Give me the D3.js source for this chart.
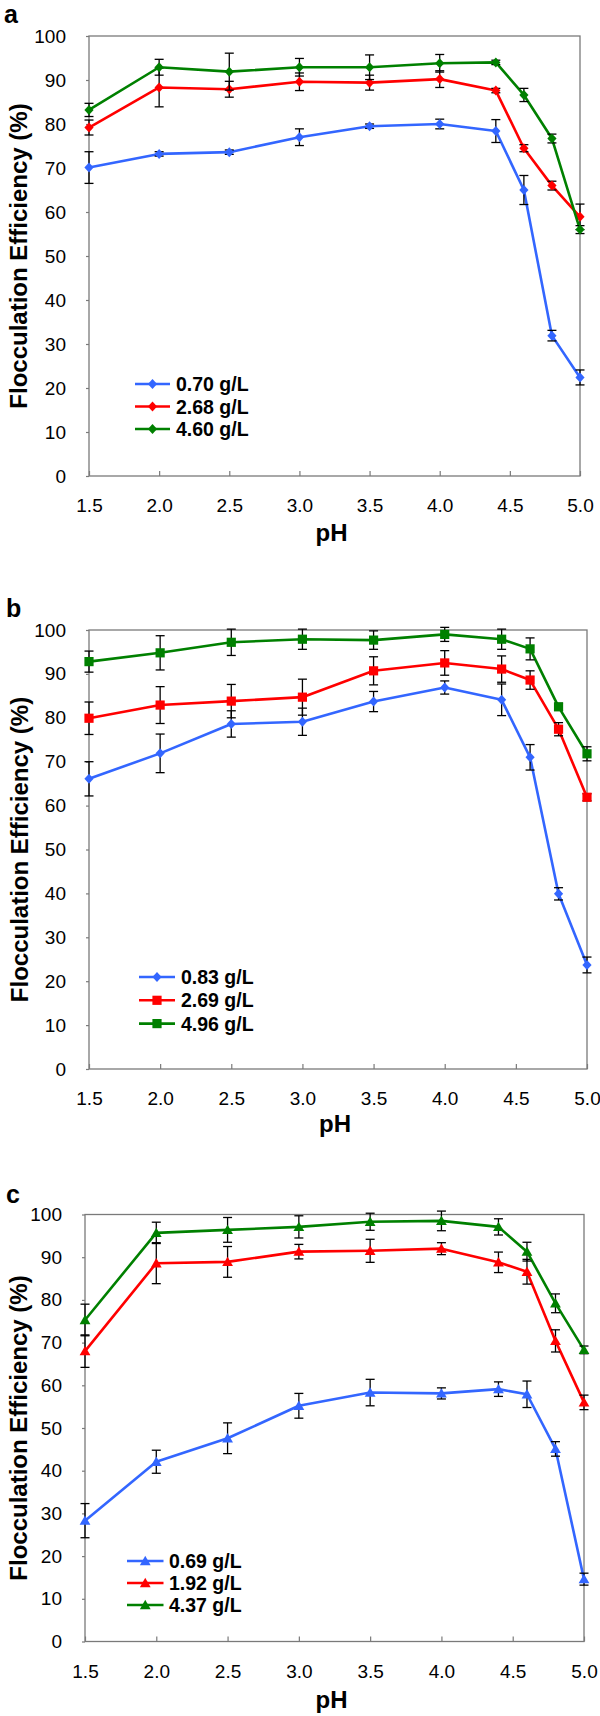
<!DOCTYPE html>
<html>
<head>
<meta charset="utf-8">
<script src="https://cdn.jsdelivr.net/npm/d3@7"></script>
<style>
  html, body { margin: 0; padding: 0; background: #fff; }
  svg { display: block; }
  text { font-family: "Liberation Sans", Arial, sans-serif; fill: #000; }
</style>
</head>
<body>
<svg id="chart" width="600" height="1716"></svg>
<script>
// ---------- data ----------
const pH = [1.5, 2.0, 2.5, 3.0, 3.5, 4.0, 4.4, 4.6, 4.8, 5.0];
const xTicks = [1.5, 2.0, 2.5, 3.0, 3.5, 4.0, 4.5, 5.0];
const yTicks = [0, 10, 20, 30, 40, 50, 60, 70, 80, 90, 100];

// panel a (diamonds)
const legendA = ["0.70 g/L", "2.68 g/L", "4.60 g/L"];
const aLow  = [70.1, 73.2, 73.6, 77.0, 79.5, 80.0, 78.4, 65.0, 31.9, 22.4];
const aLowErr  = [3.6, 0.5, 0.5, 1.9, 0.5, 1.1, 2.6, 3.3, 1.2, 1.7];
const aMid  = [79.2, 88.3, 87.9, 89.6, 89.4, 90.2, 87.6, 74.5, 66.0, 58.9];
const aMidErr  = [1.7, 4.4, 1.8, 2.0, 1.7, 1.9, 0.5, 0.8, 1.0, 2.9];
const aHigh = [83.2, 92.9, 91.9, 92.9, 92.9, 93.8, 94.0, 86.6, 76.7, 56.0];
const aHighErr = [1.5, 1.8, 4.2, 2.0, 2.8, 2.0, 0.5, 1.5, 1.0, 0.9];

// panel b (diamond + squares)
const legendB = ["0.83 g/L", "2.69 g/L", "4.96 g/L"];
const bLow  = [66.1, 71.9, 78.6, 79.1, 83.7, 86.9, 84.1, 71.0, 39.9, 23.7];
const bLowErr  = [3.9, 4.4, 3.0, 3.1, 2.3, 1.5, 3.6, 2.9, 1.4, 1.8];
const bMid  = [79.9, 82.9, 83.8, 84.7, 90.7, 92.5, 91.1, 88.6, 77.4, 61.9];
const bMidErr  = [3.7, 4.2, 3.8, 4.1, 3.2, 2.8, 3.0, 2.1, 1.5, 0.8];
const bHigh = [92.8, 94.8, 97.2, 97.9, 97.7, 99.0, 97.9, 95.7, 82.5, 71.8];
const bHighErr = [2.4, 3.9, 3.0, 2.3, 2.1, 1.6, 2.3, 2.5, 0.8, 1.6];

// panel c (triangles)
const legendC = ["0.69 g/L", "1.92 g/L", "4.37 g/L"];
const cLow  = [28.3, 42.1, 47.6, 55.2, 58.3, 58.1, 59.1, 57.9, 45.1, 14.6];
const cLowErr  = [4.0, 2.7, 3.6, 2.9, 3.1, 1.3, 1.7, 3.1, 1.7, 1.4];
const cMid  = [68.0, 88.6, 88.9, 91.3, 91.5, 92.0, 88.8, 86.6, 70.4, 56.0];
const cMidErr  = [3.8, 4.8, 3.6, 1.7, 2.7, 1.4, 2.4, 2.9, 2.6, 1.7];
const cHigh = [75.3, 95.7, 96.4, 97.1, 98.3, 98.5, 97.1, 91.3, 79.2, 68.3];
const cHighErr = [3.7, 2.5, 2.9, 2.6, 2.0, 2.3, 1.9, 2.2, 2.2, 0.9];

const colors = ["#3366ff", "#ff0000", "#008000"];

// ---------- layout ----------
const panels = [
  { letter: "a", shapes: ["diamond", "diamond", "diamond"], labels: legendA,
    vals: [aLow, aMid, aHigh], errs: [aLowErr, aMidErr, aHighErr],
    l: 89, r: 580, t: 36, b: 476, lx0: 135, lx1: 170, ltx: 176, ly: 384, ldy: 22.5,
    letterX: 4, letterY: 23, titleX: 27, phDy: 65 },
  { letter: "b", shapes: ["diamond", "square", "square"], labels: legendB,
    vals: [bLow, bMid, bHigh], errs: [bLowErr, bMidErr, bHighErr],
    l: 89, r: 587, t: 630, b: 1069, lx0: 139, lx1: 175, ltx: 181, ly: 977, ldy: 23.3,
    letterX: 6, letterY: 617, titleX: 28, phDy: 63 },
  { letter: "c", shapes: ["triangle", "triangle", "triangle"], labels: legendC,
    vals: [cLow, cMid, cHigh], errs: [cLowErr, cMidErr, cHighErr],
    l: 85, r: 584, t: 1214.5, b: 1641.5, lx0: 127, lx1: 163.5, ltx: 169, ly: 1561, ldy: 22,
    letterX: 6, letterY: 1203, titleX: 27, phDy: 66 }
];

function shapePath(shape) {
  if (shape === "diamond") return "M0,-5L4.6,0L0,5L-4.6,0Z";
  if (shape === "square") return "M-4.6,-4.6H4.6V4.6H-4.6Z";
  return "M0,-5.2L5.4,4.2L-5.4,4.2Z";
}

const svg = d3.select("#chart");
const axisColor = "#7a7a7a";

panels.forEach(p => {
  const g = svg.append("g");
  const x = d3.scaleLinear().domain([1.5, 5.0]).range([p.l, p.r]);
  const y = d3.scaleLinear().domain([0, 100]).range([p.b, p.t]);

  // frame
  g.append("rect").attr("x", p.l).attr("y", p.t)
    .attr("width", p.r - p.l).attr("height", p.b - p.t)
    .attr("fill", "none").attr("stroke", axisColor).attr("stroke-width", 1.3);

  // y axis
  const ya = g.append("g").attr("transform", `translate(${p.l},0)`)
    .call(d3.axisLeft(y).tickValues(yTicks).tickSize(3).tickPadding(20).tickFormat(d3.format("d")));
  ya.select(".domain").remove();
  ya.selectAll("line").attr("stroke", axisColor).attr("stroke-width", 1.2);
  ya.selectAll("text").attr("font-size", 19).attr("fill", "#000")
    .style("font-family", "'Liberation Sans', Arial, sans-serif");

  // x axis
  const xa = g.append("g").attr("transform", `translate(0,${p.b})`)
    .call(d3.axisBottom(x).tickValues(xTicks).tickSizeInner(-5).tickSizeOuter(0).tickPadding(23).tickFormat(d3.format(".1f")));
  xa.select(".domain").remove();
  xa.selectAll("line").attr("stroke", axisColor).attr("stroke-width", 1.2);
  xa.selectAll("text").attr("font-size", 19).attr("fill", "#000")
    .style("font-family", "'Liberation Sans', Arial, sans-serif");

  // series
  p.vals.forEach((vals, si) => {
    const pts = pH.map((ph, i) => ({ x: ph, y: vals[i], e: p.errs[si][i] }));
    const col = colors[si];
    g.append("path").datum(pts)
      .attr("d", d3.line().x(d => x(d.x)).y(d => y(d.y)))
      .attr("fill", "none").attr("stroke", col).attr("stroke-width", 2.6)
      .attr("stroke-linejoin", "round");
    const eb = g.append("g").attr("stroke", "#000").attr("stroke-width", 1.3);
    pts.forEach(d => {
      const cx = x(d.x), y1 = y(d.y + d.e), y2 = y(d.y - d.e);
      eb.append("line").attr("x1", cx).attr("x2", cx).attr("y1", y1).attr("y2", y2);
      eb.append("line").attr("x1", cx - 4.5).attr("x2", cx + 4.5).attr("y1", y1).attr("y2", y1);
      eb.append("line").attr("x1", cx - 4.5).attr("x2", cx + 4.5).attr("y1", y2).attr("y2", y2);
    });
    g.append("g").selectAll("path").data(pts).join("path")
      .attr("d", shapePath(p.shapes[si]))
      .attr("transform", d => `translate(${x(d.x)},${y(d.y)})`)
      .attr("fill", col);
  });

  // legend
  p.labels.forEach((lab, i) => {
    const ly = p.ly + i * p.ldy;
    g.append("line").attr("x1", p.lx0).attr("x2", p.lx1).attr("y1", ly).attr("y2", ly)
      .attr("stroke", colors[i]).attr("stroke-width", 2.6);
    g.append("path").attr("d", shapePath(p.shapes[i]))
      .attr("transform", `translate(${(p.lx0 + p.lx1) / 2},${ly})`).attr("fill", colors[i]);
    g.append("text").attr("x", p.ltx).attr("y", ly + 7)
      .attr("font-size", 19.5).attr("font-weight", "bold").text(lab);
  });

  // axis titles
  g.append("text").attr("x", (p.l + p.r) / 2 - 3).attr("y", p.b + p.phDy)
    .attr("text-anchor", "middle").attr("font-size", 24).attr("font-weight", "bold").text("pH");
  g.append("text")
    .attr("transform", `translate(${p.titleX},${(p.t + p.b) / 2}) rotate(-90)`)
    .attr("text-anchor", "middle").attr("font-size", 24).attr("font-weight", "bold")
    .text("Flocculation Efficiency (%)");

  // panel letter
  g.append("text").attr("x", p.letterX).attr("y", p.letterY)
    .attr("font-size", 25).attr("font-weight", "bold").text(p.letter);
});
</script>
</body>
</html>
